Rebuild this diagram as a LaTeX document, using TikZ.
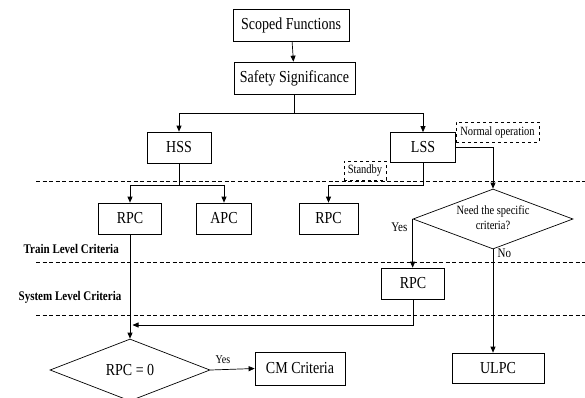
\documentclass[tikz,border=0pt]{standalone}
\usepackage{fontspec}
\setmainfont{Liberation Serif}
\usetikzlibrary{arrows.meta,shapes.geometric}
% text in this chart is set slightly tall
\newcommand{\tall}[1]{\scalebox{1}[1.2]{#1}}
\begin{document}
\begin{tikzpicture}[x=1pt,y=-1pt,
  line width=0.7pt,
  box/.style={draw,rectangle,inner sep=0pt,font=\fontsize{14}{16}\selectfont},
  tag/.style={draw,dashed,rectangle,inner sep=1pt,font=\fontsize{10.5}{12}\selectfont},
  decision/.style={draw,diamond,inner sep=0pt,align=center,aspect=2.67},
  level/.style={font=\bfseries\fontsize{11}{13}\selectfont,anchor=west},
  lbl/.style={font=\fontsize{11}{13}\selectfont},
  divider/.style={dashed,dash pattern=on 4pt off 2.5pt,line width=0.6pt},
  arr/.style={-{Triangle[length=6pt,width=5pt]}}]
\useasboundingbox (0,0) rectangle (585,397);
\clip (0,0) rectangle (585,397);
\fill[white] (0,0) rectangle (585,397);

% level dividers
\draw[divider] (36,181) -- (585,181);
\draw[divider] (36,262) -- (585,262);
\draw[divider] (36,315) -- (585,315);
\node[level] (train) at (20,249) {\tall{Train Level Criteria}};
\node[level] (system) at (15,297) {\tall{System Level Criteria}};

% boxes
\node[box,minimum width=116pt,minimum height=32pt] (sf) at (291,25) {\tall{Scoped Functions}};
\node[box,minimum width=121pt,minimum height=32pt] (ss) at (294.5,78) {\tall{Safety Significance}};
\node[box,minimum width=64pt,minimum height=31pt] (hss) at (179,147.5) {\tall{HSS}};
\node[box,minimum width=65pt,minimum height=30pt] (lss) at (423,147.5) {\tall{LSS}};
\node[box,minimum width=63pt,minimum height=31pt] (rpca) at (130,218.5) {\tall{RPC}};
\node[box,minimum width=55pt,minimum height=31pt] (apc) at (224,218.5) {\tall{APC}};
\node[box,minimum width=59pt,minimum height=31pt] (rpcb) at (328.5,218.5) {\tall{RPC}};
\node[box,minimum width=63pt,minimum height=31pt] (rpcc) at (413,283.5) {\tall{RPC}};
\node[box,minimum width=90pt,minimum height=33pt] (cm) at (300,368.5) {\tall{CM Criteria}};
\node[box,minimum width=92pt,minimum height=30pt] (ulpc) at (498,368) {\tall{ULPC}};

% decisions
\node[decision,minimum width=160pt,minimum height=60pt,font=\fontsize{10.5}{13}\selectfont] (need) at (493,219)
  {\tall{\begin{tabular}{@{}c@{}}Need the specific\\criteria?\end{tabular}}};
\node[decision,minimum width=160pt,minimum height=62pt,font=\fontsize{14}{16}\selectfont] (zero) at (130,370) {\tall{RPC = 0}};

% dashed tags
\node[tag,minimum width=83pt,minimum height=20pt] (normal) at (497.5,132) {\tall{Normal operation}};
\node[tag,minimum width=42pt,minimum height=19pt] (standby) at (365,170.5) {\tall{Standby}};

% junction levels
\coordinate (y1) at (0,113);
\coordinate (y2) at (0,185);
\coordinate (y3) at (0,325);

% connectors
\draw[arr] (sf) -- (ss);
\draw (ss.south) -- (ss.south |- y1);
\draw[arr] (ss.south |- y1) -| (hss.north);
\draw[arr] (ss.south |- y1) -| (lss.north);
\draw (hss.south) -- (hss.south |- y2);
\draw[arr] (hss.south |- y2) -| (rpca.north);
\draw[arr] (hss.south |- y2) -| (apc.north);
\draw[arr] (lss.south) -- (lss.south |- y2) -| (rpcb.north);
\draw[arr] (lss.east) -| (need.north);
\draw[arr] (need.west) -- (need.west |- rpcc.north);
\draw[arr] (need.south) -- (need.south |- ulpc.north);
\draw[arr] (rpcc.south) -- (rpcc.south |- y3) -- ([xshift=2.5pt]rpca.south |- y3);
\draw[arr] (rpca.south) -- (zero.north);
\draw[arr] (zero.east) -- (cm.west);

% branch labels
\node[lbl,anchor=east] (yes1) at (411,227) {\tall{Yes}};
\node[lbl,anchor=west] (no1) at (494,253) {\tall{No}};
\node[lbl,font=\fontsize{10}{12}\selectfont] (yes2) at (223,360) {\tall{Yes}};
\end{tikzpicture}
\end{document}
